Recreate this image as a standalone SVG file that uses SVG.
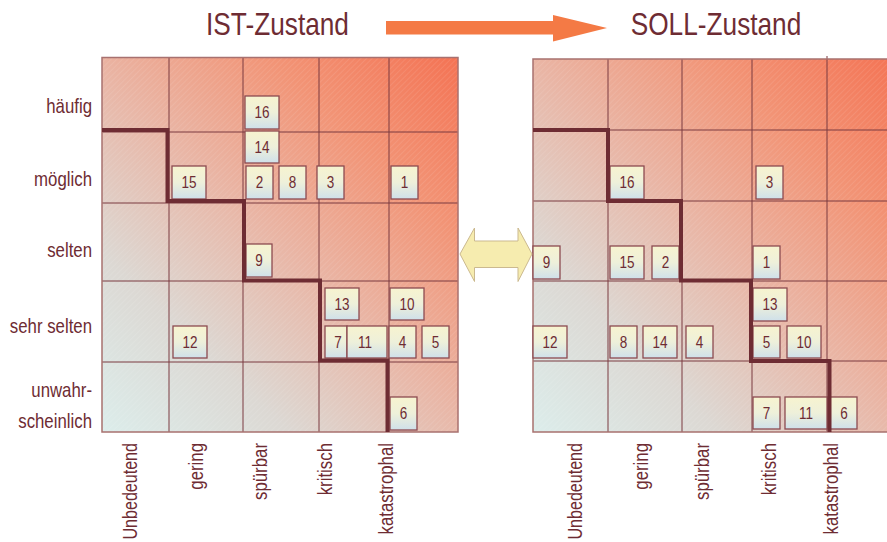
<svg xmlns="http://www.w3.org/2000/svg" width="887" height="542" viewBox="0 0 887 542">
<style>
text{font-family:"Liberation Sans Narrow","Liberation Sans",Arial,sans-serif;fill:#6e2c33}
.title{font-size:32px;text-anchor:middle}
.row{font-size:20.5px;text-anchor:end}
.col{font-size:20.5px;text-anchor:end}
.num{font-size:16.5px;text-anchor:middle}
.box{fill:url(#boxg);stroke:#8c4a50;stroke-width:1.3}
.grid{fill:none;stroke:#7a3a40;stroke-width:1}
.frame{fill:none;stroke:#a8716f;stroke-width:1.5}
.stair{fill:none;stroke:#6e2c33;stroke-width:4;stroke-linejoin:miter}
</style>
<defs>
<linearGradient id="boxg" x1="0" y1="0" x2="0" y2="1">
<stop offset="0" stop-color="#f7f3cf"/>
<stop offset="0.5" stop-color="#eef0da"/>
<stop offset="1" stop-color="#cfe0ea"/>
</linearGradient>
<linearGradient id="bgL" gradientUnits="userSpaceOnUse" x1="102" y1="432" x2="458" y2="57">
<stop offset="0" stop-color="#dcedeb"/>
<stop offset="0.25" stop-color="#dcd8d3"/>
<stop offset="0.5" stop-color="#e9b6a6"/>
<stop offset="0.75" stop-color="#f29476"/>
<stop offset="1" stop-color="#f47354"/>
</linearGradient>
<linearGradient id="bgR" gradientUnits="userSpaceOnUse" x1="533" y1="432" x2="900" y2="59">
<stop offset="0" stop-color="#dcedeb"/>
<stop offset="0.25" stop-color="#dcd8d3"/>
<stop offset="0.5" stop-color="#e9b6a6"/>
<stop offset="0.75" stop-color="#f29476"/>
<stop offset="1" stop-color="#f47354"/>
</linearGradient>
<pattern id="hatch" patternUnits="userSpaceOnUse" width="4" height="4" patternTransform="rotate(45)">
<line x1="0" y1="0" x2="0" y2="4" stroke="#ffffff" stroke-width="1" stroke-opacity="0.18"/>
</pattern>
</defs>

<!-- titles -->
<text class="title" transform="translate(277.5,35) scale(0.82,1)">IST-Zustand</text>
<text class="title" transform="translate(716,35) scale(0.82,1)">SOLL-Zustand</text>

<!-- left grid -->
<g id="gridL">
<rect x="102" y="57.5" width="356" height="374.5" fill="url(#bgL)"/>
<rect x="102" y="57.5" width="356" height="374.5" fill="url(#hatch)"/>
<path class="grid" d="M169 57.5V432M243 57.5V432M319 57.5V432M389 57.5V432M102 132H458M102 203H458M102 281H458M102 362H458"/>
<rect class="frame" x="102" y="57.5" width="356" height="374.5"/>
</g>

<!-- right grid -->
<g id="gridR">
<rect x="533" y="59" width="360" height="373" fill="url(#bgR)"/>
<rect x="533" y="59" width="360" height="373" fill="url(#hatch)"/>
<path class="grid" d="M608 59V432M682 59V432M752 59V432M827 56V432M533 130H887M533 201H887M533 281H887M533 361H887"/>
<path class="frame" d="M887 59H533V432H887"/>
</g>

<!-- row labels -->
<g id="rowlabels">
<text class="row" transform="translate(92,113) scale(0.82,1)">häufig</text>
<text class="row" transform="translate(92,186) scale(0.82,1)">möglich</text>
<text class="row" transform="translate(92,257) scale(0.82,1)">selten</text>
<text class="row" transform="translate(92,333) scale(0.82,1)">sehr selten</text>
<text class="row" transform="translate(92,397) scale(0.82,1)">unwahr-</text>
<text class="row" transform="translate(92,428) scale(0.82,1)">scheinlich</text>
</g>

<!-- column labels -->
<g id="collabelsL">
<text class="col" transform="translate(136.5,443) rotate(-90) scale(0.785,1)">Unbedeutend</text>
<text class="col" transform="translate(202.5,443) rotate(-90) scale(0.82,1)">gering</text>
<text class="col" transform="translate(266.5,443) rotate(-90) scale(0.82,1)">spürbar</text>
<text class="col" transform="translate(331.5,443) rotate(-90) scale(0.82,1)">kritisch</text>
<text class="col" transform="translate(393,443) rotate(-90) scale(0.82,1)">katastrophal</text>
</g>
<g id="collabelsR">
<text class="col" transform="translate(581.5,443) rotate(-90) scale(0.785,1)">Unbedeutend</text>
<text class="col" transform="translate(648,443) rotate(-90) scale(0.82,1)">gering</text>
<text class="col" transform="translate(709,443) rotate(-90) scale(0.82,1)">spürbar</text>
<text class="col" transform="translate(775.5,443) rotate(-90) scale(0.82,1)">kritisch</text>
<text class="col" transform="translate(838,443) rotate(-90) scale(0.82,1)">katastrophal</text>
</g>

<!-- left nodes -->
<g id="L16"><rect class="box" x="245" y="96" width="34" height="33"/><text class="num" transform="translate(262,118) scale(0.82,1)">16</text></g>
<g id="L14"><rect class="box" x="245" y="131" width="34" height="32"/><text class="num" transform="translate(262,153) scale(0.82,1)">14</text></g>
<g id="L15"><rect class="box" x="172" y="166" width="34" height="33"/><text class="num" transform="translate(189,188) scale(0.82,1)">15</text></g>
<g id="L2"><rect class="box" x="246" y="166" width="27" height="33"/><text class="num" transform="translate(259.5,188) scale(0.82,1)">2</text></g>
<g id="L8"><rect class="box" x="279" y="166" width="27" height="33"/><text class="num" transform="translate(292.5,188) scale(0.82,1)">8</text></g>
<g id="L3"><rect class="box" x="317" y="166" width="27" height="33"/><text class="num" transform="translate(330.5,188) scale(0.82,1)">3</text></g>
<g id="L1"><rect class="box" x="391" y="166" width="27" height="33"/><text class="num" transform="translate(404.5,188) scale(0.82,1)">1</text></g>
<g id="L9"><rect class="box" x="246" y="244" width="26" height="33"/><text class="num" transform="translate(259,266) scale(0.82,1)">9</text></g>
<g id="L13"><rect class="box" x="325" y="288" width="34" height="32"/><text class="num" transform="translate(342,310) scale(0.82,1)">13</text></g>
<g id="L10"><rect class="box" x="390" y="288" width="34" height="32"/><text class="num" transform="translate(407,310) scale(0.82,1)">10</text></g>
<g id="L12"><rect class="box" x="173" y="326" width="34" height="32"/><text class="num" transform="translate(190,348) scale(0.82,1)">12</text></g>
<g id="L7"><rect class="box" x="325" y="326" width="22" height="32"/><text class="num" transform="translate(338,348) scale(0.82,1)">7</text></g>
<g id="L11"><rect class="box" x="347" y="326" width="40" height="32"/><text class="num" transform="translate(365,348) scale(0.82,1)">11</text></g>
<g id="L4"><rect class="box" x="389" y="326" width="27" height="32"/><text class="num" transform="translate(402.5,348) scale(0.82,1)">4</text></g>
<g id="L5"><rect class="box" x="422" y="326" width="27" height="32"/><text class="num" transform="translate(435.5,348) scale(0.82,1)">5</text></g>
<g id="L6"><rect class="box" x="390" y="397" width="27" height="33"/><text class="num" transform="translate(403.5,419) scale(0.82,1)">6</text></g>

<!-- right nodes -->
<g id="R16"><rect class="box" x="610" y="166" width="34" height="33"/><text class="num" transform="translate(627,188) scale(0.82,1)">16</text></g>
<g id="R3"><rect class="box" x="756" y="166" width="27" height="33"/><text class="num" transform="translate(769.5,188) scale(0.82,1)">3</text></g>
<g id="R9"><rect class="box" x="533" y="246" width="27" height="33"/><text class="num" transform="translate(546.5,268) scale(0.82,1)">9</text></g>
<g id="R15"><rect class="box" x="610" y="246" width="34" height="33"/><text class="num" transform="translate(627,268) scale(0.82,1)">15</text></g>
<g id="R2"><rect class="box" x="652" y="246" width="27" height="33"/><text class="num" transform="translate(665.5,268) scale(0.82,1)">2</text></g>
<g id="R1"><rect class="box" x="753" y="246" width="27" height="33"/><text class="num" transform="translate(766.5,268) scale(0.82,1)">1</text></g>
<g id="R13"><rect class="box" x="753" y="288" width="34" height="33"/><text class="num" transform="translate(770,310) scale(0.82,1)">13</text></g>
<g id="R12"><rect class="box" x="533" y="326" width="34" height="32"/><text class="num" transform="translate(550,348) scale(0.82,1)">12</text></g>
<g id="R8"><rect class="box" x="610" y="326" width="27" height="32"/><text class="num" transform="translate(623.5,348) scale(0.82,1)">8</text></g>
<g id="R14"><rect class="box" x="643" y="326" width="34" height="32"/><text class="num" transform="translate(660,348) scale(0.82,1)">14</text></g>
<g id="R4"><rect class="box" x="686" y="326" width="27" height="32"/><text class="num" transform="translate(699.5,348) scale(0.82,1)">4</text></g>
<g id="R5"><rect class="box" x="753" y="326" width="27" height="32"/><text class="num" transform="translate(766.5,348) scale(0.82,1)">5</text></g>
<g id="R10"><rect class="box" x="787" y="326" width="34" height="32"/><text class="num" transform="translate(804,348) scale(0.82,1)">10</text></g>
<g id="R7"><rect class="box" x="753" y="397" width="27" height="32"/><text class="num" transform="translate(766.5,419) scale(0.82,1)">7</text></g>
<g id="R11"><rect class="box" x="785" y="397" width="42" height="32"/><text class="num" transform="translate(806,419) scale(0.82,1)">11</text></g>
<g id="R6"><rect class="box" x="828" y="397" width="29" height="32"/><text class="num" transform="translate(844,419) scale(0.82,1)">6</text></g>

<!-- risk boundaries -->
<g id="stairs">
<path class="stair" d="M102 130H167.5V201H244V280.5H320V360.5H387.5V432"/>
<path class="stair" d="M533 130H608V201H681V280.5H751V361H829.5V432"/>
</g>

<!-- connectors -->
<g id="connectors">
<path d="M386 21H553V15L607 28L553 41.5V34.5H386Z" fill="#f47a45"/>
<path d="M460 254L474.5 228V241H518V228L532 254L518 281.5V267.5H474.5V281.5Z" fill="#f6ecaf" stroke="#cbb98f" stroke-width="1"/>
</g>
</svg>
